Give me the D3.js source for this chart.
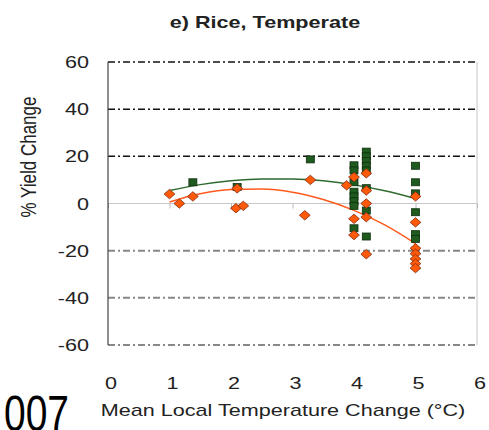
<!DOCTYPE html>
<html>
<head>
<meta charset="utf-8">
<script src="https://cdn.jsdelivr.net/npm/d3@7"></script>
<style>
  body { margin: 0; background: #fff; }
  text { font-family: "Liberation Sans", Arial, sans-serif; fill: #222; }
</style>
</head>
<body>
<div id="chart"></div>
<script>
// tick labels
const xTicks = [0, 1, 2, 3, 4, 5, 6];
const yTicks = [-60, -40, -20, 0, 20, 40, 60];

// green squares (temperature, % yield change)
const greenX = [1.38, 2.1, 3.29,
  4.0, 4.0, 4.0, 4.0, 4.0, 4.0, 4.0, 4.0,
  4.2, 4.2, 4.2, 4.2, 4.2, 4.2, 4.2, 4.2,
  5.0, 5.0, 5.0, 5.0, 5.0, 5.0];
const greenY = [9, 7, 18.7,
  16.2, 14, 9, 5, 3, 1, -1, -10.5,
  22, 20, 18, 16, 14, 6.5, -3, -14,
  16, 9, 4.3, -3.7, -13, -15];

// orange diamonds
const orangeX = [1.0, 1.16, 1.38, 2.1, 2.08, 2.2, 3.29, 3.2,
  3.88, 4.0, 4.0, 4.0,
  4.2, 4.2, 4.2, 4.2, 4.2,
  5.0, 5.0, 5.0, 5.0, 5.0, 5.0, 5.0];
const orangeY = [4, 0, 3, 6.4, -2, -1, 10, -5,
  7.7, 11.2, -6.5, -13.4,
  12.8, 5.5, 0, -5.8, -21.5,
  3, -8, -19, -21.3, -23.5, -25.5, -27.4];

// trend lines
const trendX = [1, 1.5, 2, 2.5, 3, 3.5, 4, 4.5, 5];
const greenTrend = [5.5, 8.0, 9.6, 10.4, 10.4, 9.6, 7.9, 5.4, 2.1];
const orangeTrend = [0.6, 4.1, 5.9, 6.1, 4.8, 1.7, -2.9, -9.1, -17];

const width = 489, height = 430;
const sx = 1.27; // the picture is stretched sideways

const svg = d3.select("#chart").append("svg")
  .attr("width", width)
  .attr("height", height);

const x = d3.scaleLinear().domain([0, 6]).range([108, 477]);
const y = d3.scaleLinear().domain([-60, 60]).range([345, 62]);

// gridlines
const gridStyle = d => {
  if (d === 0) return { stroke: "#c8c8c8", dash: null, w: 1 };
  if (d > 0) return { stroke: "#111", dash: "7,3,2,3", w: 1.5 };
  return { stroke: "#888", dash: "7,3,2,3", w: 2 };
};

svg.append("g").selectAll("line")
  .data(yTicks)
  .join("line")
  .attr("x1", x(0))
  .attr("x2", x(6))
  .attr("y1", d => y(d))
  .attr("y2", d => y(d))
  .attr("stroke", d => gridStyle(d).stroke)
  .attr("stroke-width", d => gridStyle(d).w)
  .attr("stroke-dasharray", d => gridStyle(d).dash);

// right border
svg.append("line")
  .attr("x1", x(6)).attr("x2", x(6))
  .attr("y1", y(60)).attr("y2", y(-60))
  .attr("stroke", "#c8c8c8");

// x ticks on the zero line
svg.append("g")
  .attr("transform", `translate(0,${y(0)})`)
  .call(d3.axisBottom(x).tickValues(xTicks).tickSize(5).tickFormat(""))
  .call(g => g.select(".domain").remove())
  .call(g => g.selectAll("line").attr("stroke", "#bbb"));

// left axis
svg.append("line")
  .attr("x1", x(0)).attr("x2", x(0))
  .attr("y1", y(60)).attr("y2", y(-60))
  .attr("stroke", "#444")
  .attr("stroke-width", 1.2);

// tick labels
svg.append("g").selectAll("text")
  .data(yTicks)
  .join("text")
  .attr("transform", d => `translate(89,${y(d)}) scale(${sx},1)`)
  .attr("dy", "0.36em")
  .attr("text-anchor", "end")
  .attr("font-size", 17)
  .text(d => d);

svg.append("g").selectAll("text")
  .data(xTicks)
  .join("text")
  .attr("transform", d => `translate(${x(d) + 3},389) scale(${sx},1)`)
  .attr("text-anchor", "middle")
  .attr("font-size", 17)
  .text(d => d);

// trend lines
const line = d3.line()
  .x((d, i) => x(trendX[i]))
  .y(d => y(d))
  .curve(d3.curveMonotoneX);

svg.append("path")
  .attr("d", line(greenTrend))
  .attr("fill", "none")
  .attr("stroke", "#2f6a2f")
  .attr("stroke-width", 1.5);

svg.append("path")
  .attr("d", line(orangeTrend))
  .attr("fill", "none")
  .attr("stroke", "#ff5a1e")
  .attr("stroke-width", 1.5);

// green squares
svg.append("g").selectAll("rect")
  .data(greenY)
  .join("rect")
  .attr("x", (d, i) => x(greenX[i]) - 4)
  .attr("y", d => y(d) - 3.5)
  .attr("width", 8)
  .attr("height", 7)
  .attr("fill", "#1f5a1f")
  .attr("stroke", "#0d2e0d")
  .attr("stroke-width", 0.8);

// orange diamonds
const diamond = d3.symbol().type(d3.symbolDiamond2).size(56);
svg.append("g").selectAll("path")
  .data(orangeY)
  .join("path")
  .attr("transform", (d, i) => `translate(${x(orangeX[i])},${y(d)}) scale(1.15,1)`)
  .attr("d", diamond)
  .attr("fill", "#ff5a0a")
  .attr("stroke", "#8a3010")
  .attr("stroke-width", 0.8);

// titles
svg.append("text")
  .attr("transform", `translate(265,28) scale(${sx},1)`)
  .attr("text-anchor", "middle")
  .attr("font-size", 17)
  .attr("font-weight", "bold")
  .text("e) Rice, Temperate");

svg.append("text")
  .attr("transform", `translate(36,157) scale(${sx},1) rotate(-90)`)
  .attr("text-anchor", "middle")
  .attr("font-size", 17)
  .text("% Yield Change");

svg.append("text")
  .attr("transform", `translate(283,416) scale(${sx},1)`)
  .attr("text-anchor", "middle")
  .attr("font-size", 17)
  .text("Mean Local Temperature Change (°C)");

// stray caption fragment at the bottom-left
svg.append("text")
  .attr("transform", "translate(4,431) scale(0.78,1)")
  .attr("font-family", "'Liberation Serif', 'Times New Roman', serif")
  .attr("font-size", 50)
  .style("fill", "#000")
  .text("007");
</script>
</body>
</html>
